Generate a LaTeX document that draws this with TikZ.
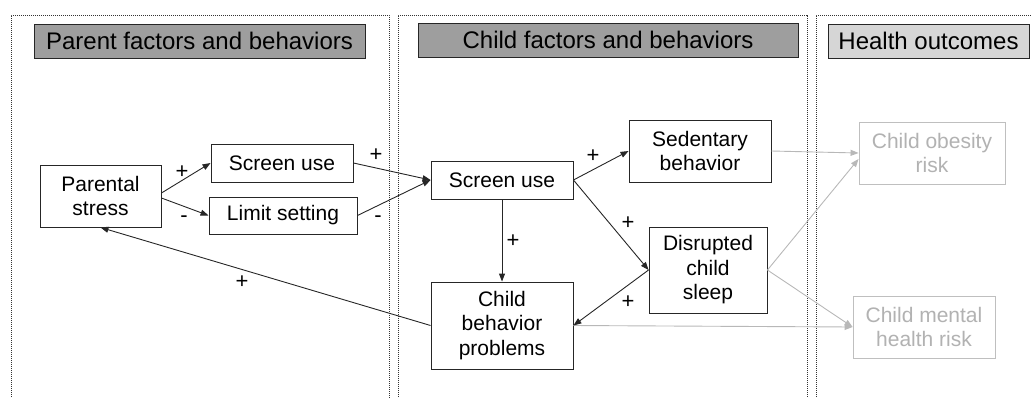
\documentclass[tikz,border=0pt]{standalone}
\usepackage{fontspec}
\setmainfont{Liberation Sans}
\usetikzlibrary{arrows.meta}
\begin{document}
\begin{tikzpicture}[x=1pt,y=-1pt,
  panel/.style={draw=black!80, line width=0.9pt, dash pattern=on 1.2pt off 0.8pt},
  title/.style={draw=black!85, line width=1pt, font=\fontsize{24}{27}\selectfont, inner sep=0pt},
  box/.style={draw=black!85, line width=0.9pt, fill=white, align=center, inner sep=0pt, font=\fontsize{21}{24.5}\selectfont},
  gbox/.style={box, draw=black!25, text=black!30},
  lab/.style={inner sep=0pt, font=\fontsize{22}{24}\selectfont},
  arr/.style={draw=black!85, line width=0.9pt, -{Triangle[length=8pt,width=6pt]}},
  garr/.style={draw=black!28, line width=0.9pt, -{Triangle[length=8pt,width=6pt]}}
]
\useasboundingbox (0,0) rectangle (1032,397);
% panels
\draw[panel] (11,405) -- (11,15) -- (389,15) -- (389,405);
\draw[panel] (398,405) -- (398,15) -- (807,15) -- (807,405);
\draw[panel] (816,405) -- (816,15) -- (1040,15);
% titles
\node[title, fill=black!38, minimum width=331pt, minimum height=34pt] (t1) at (199.5,41) {Parent factors and behaviors};
\node[title, fill=black!38, minimum width=380pt, minimum height=34pt] (t2) at (608,40) {Child factors and behaviors};
\node[title, fill=black!16, minimum width=201pt, minimum height=34pt] (t3) at (928.5,41) {Health outcomes};
% nodes
\node[box, minimum width=121pt, minimum height=62pt] (ps) at (100.5,196) {Parental\\stress};
\node[box, minimum width=142pt, minimum height=38pt] (su1) at (282,163) {Screen use};
\node[box, minimum width=148pt, minimum height=37pt] (ls) at (283,215.5) {Limit setting};
\node[box, minimum width=142pt, minimum height=38pt] (sc) at (502,180) {Screen use};
\node[box, minimum width=142pt, minimum height=62pt] (sed) at (700,151) {Sedentary\\behavior};
\node[box, minimum width=118pt, minimum height=86pt] (dis) at (708,270) {Disrupted\\child\\sleep};
\node[box, minimum width=142pt, minimum height=87pt] (cb) at (502,325.5) {Child\\behavior\\problems};
\node[gbox, minimum width=146pt, minimum height=62pt] (ob) at (932,153) {Child obesity\\risk};
\node[gbox, minimum width=142pt, minimum height=62pt] (mh) at (924,327) {Child mental\\health risk};
% gray arrows
\draw[garr] (sed.east) -- (ob.west);
\draw[garr] (dis.east) -- ([yshift=-6pt]ob.west);
\draw[garr] (dis.east) -- (mh.west);
\draw[garr] (cb.east) -- (mh.west);
% black arrows
\draw[arr] ([yshift=3pt]ps.east) -- (su1.west);
\draw[arr] ([yshift=-2pt]ps.east) -- (ls.west);
\draw[arr] (su1.east) -- (sc.west);
\draw[arr] (ls.east) -- (sc.west);
\draw[arr] (sc.east) -- (sed.west);
\draw[arr] (sc.east) -- (dis.west);
\draw[arr] (sc.south) -- (cb.north);
\draw[arr] (dis.west) -- (cb.east);
\draw[arr] (cb.west) -- (ps.south);
% labels
\node[lab] (l1) at (182,172) {+};
\node[lab] (l2) at (184,219) {-};
\node[lab] (l3) at (376,155) {+};
\node[lab] (l4) at (378,219) {-};
\node[lab] (l5) at (593,156) {+};
\node[lab] (l6) at (628,223) {+};
\node[lab] (l7) at (513,241) {+};
\node[lab] (l8) at (628,302) {+};
\node[lab] (l9) at (242,282) {+};
\end{tikzpicture}
\end{document}
